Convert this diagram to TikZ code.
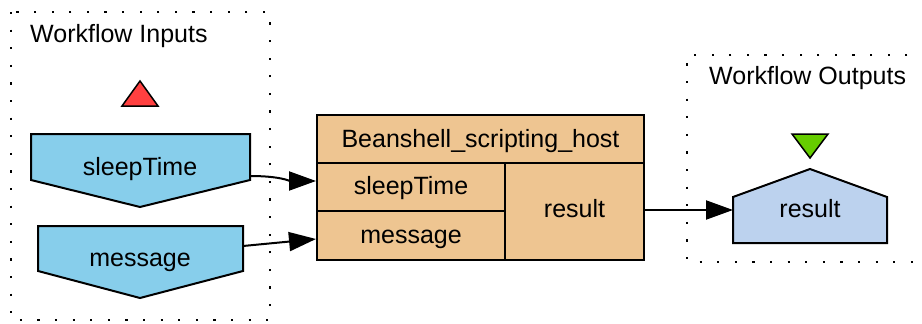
\documentclass[tikz,border=0pt]{standalone}
\usepackage{fontspec}
\setmainfont{Liberation Sans}
\usetikzlibrary{arrows.meta}
\definecolor{inblue}{HTML}{87CEEB}
\definecolor{outblue}{HTML}{BCD2EE}
\definecolor{boxtan}{HTML}{EEC591}
\definecolor{trired}{HTML}{FF4040}
\definecolor{trigreen}{HTML}{66CD00}
\begin{document}
\begin{tikzpicture}[x=1pt,y=-1pt,
  every node/.style={font=\fontsize{25}{30}\selectfont, inner sep=0pt},
  txt/.style={anchor=base},
  cluster/.style={line width=2.2pt, dash pattern=on 2.2pt off 15.4pt},
  shapeln/.style={draw=black, line width=2pt, line join=miter},
  cell/.style={draw=black, line width=2pt, fill=boxtan, anchor=north west, minimum width=#1},
  edge/.style={draw=black, line width=2pt, -{Triangle[length=27pt,width=19pt]}}]
\useasboundingbox (0,0) rectangle (922,324);
% clusters
\draw[cluster] (11,12) rectangle (270,320);
\draw[cluster] (925,55) -- (687,55) -- (687,262) -- (925,262);
\node[anchor=base west] (inlab) at (30,42) {Workflow Inputs};
\node[anchor=base west] (outlab) at (709,84) {Workflow Outputs};
% triangles
\draw[shapeln, line width=1.5pt, fill=trired] (140,81) -- (158,106) -- (122,106) -- cycle;
\draw[shapeln, line width=1.5pt, fill=trigreen] (792,134) -- (828,134) -- (810,158) -- cycle;
% input pentagons
\draw[shapeln, fill=inblue] (31,134) -- (250,134) -- (250,180) -- (140,207) -- (31,180) -- cycle;
\node[txt] (inSleep) at (140,175) {sleepTime};
\coordinate (inSleepOut) at (250,176);
\draw[shapeln, fill=inblue] (38,226) -- (243,226) -- (243,271) -- (140,298) -- (38,271) -- cycle;
\node[txt] (inMsg) at (140,266) {message};
\coordinate (inMsgOut) at (243,246);
% output pentagon
\draw[shapeln, fill=outblue] (733,197) -- (810,169) -- (887,197) -- (887,243) -- (733,243) -- cycle;
\node[txt] (outRes) at (810,217) {result};
\coordinate (outResIn) at (733,210);
% processor box
\node[cell=327pt, minimum height=48pt] (title) at (316,114) {};
\node[cell=188pt, minimum height=48pt] (pSleep) at (316,162) {};
\node[cell=188pt, minimum height=49pt] (pMsg) at (316,210) {};
\node[cell=139pt, minimum height=97pt] (pRes) at (504,162) {};
\node[txt] (titleT) at (title.center |- 0,147) {Beanshell\_scripting\_host};
\node[txt] (pSleepT) at (pSleep.center |- 0,194) {sleepTime};
\node[txt] (pMsgT) at (pMsg.center |- 0,243) {message};
\node[txt] (pResT) at (pRes.center |- 0,217) {result};
% edges
\draw[edge] (inSleepOut) .. controls (280,176) and (290,181) .. (pSleep.west |- 0,181);
\draw[edge] (inMsgOut) -- (pMsg.west |- 0,239);
\draw[edge] (pRes.east |- outResIn) -- (outResIn);
\end{tikzpicture}
\end{document}
